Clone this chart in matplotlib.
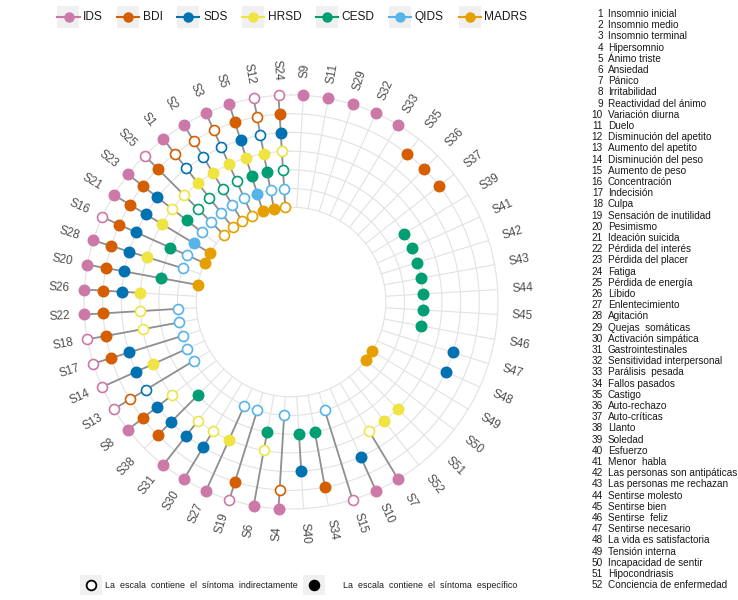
import numpy as np
import matplotlib.pyplot as plt
from matplotlib.lines import Line2D
from matplotlib.patches import Rectangle

plt.rcParams['font.family'] = ['Liberation Sans', 'DejaVu Sans']

# symptom order around the circle (clockwise, starting just right of top)
symptoms = ["S9", "S11", "S29", "S32", "S33", "S35", "S36", "S37", "S39", "S41",
            "S42", "S43", "S44", "S45", "S46", "S47", "S48", "S49", "S50", "S51",
            "S52", "S7", "S10", "S15", "S34", "S40", "S4", "S6", "S19", "S27",
            "S30", "S31", "S38", "S8", "S13", "S14", "S17", "S18", "S22", "S26",
            "S20", "S28", "S16", "S21", "S23", "S25", "S1", "S2", "S3", "S5",
            "S12", "S24"]

scales = ["IDS", "BDI", "SDS", "HRSD", "CESD", "QIDS", "MADRS"]
colors = ["#CC79A7", "#D55E00", "#0072B2", "#F0E442", "#009E73", "#56B4E9", "#E69F00"]

# 0 = not in scale, 1 = indirectly (hollow), 2 = specific (filled)
ids   = [2, 2, 2, 2, 2, 0, 0, 0, 0, 0,  0, 0, 0, 0, 0, 0, 0, 0, 0, 0,
         0, 2, 2, 1, 0, 0, 2, 2, 1, 2,  2, 2, 0, 2, 1, 1, 1, 1, 2, 2,
         2, 2, 1, 2, 2, 1, 2, 2, 2, 2,  1, 1]
bdi   = [0, 0, 0, 0, 0, 2, 2, 2, 0, 0,  0, 0, 0, 0, 0, 0, 0, 0, 0, 0,
         0, 0, 0, 0, 2, 0, 1, 0, 2, 0,  0, 0, 2, 2, 1, 0, 2, 2, 2, 2,
         2, 2, 2, 2, 2, 2, 1, 1, 1, 2,  1, 2]
sds   = [0, 0, 0, 0, 0, 0, 0, 0, 0, 0,  0, 0, 0, 0, 0, 2, 2, 0, 0, 0,
         0, 0, 2, 0, 0, 2, 0, 0, 0, 0,  2, 2, 2, 2, 1, 2, 2, 0, 0, 2,
         2, 2, 2, 2, 2, 0, 1, 1, 1, 2,  1, 2]
hrsd  = [0, 0, 0, 0, 0, 0, 0, 0, 0, 0,  0, 0, 0, 0, 0, 0, 0, 0, 0, 2,
         2, 1, 0, 0, 0, 0, 0, 1, 0, 2,  1, 1, 0, 1, 0, 2, 0, 1, 1, 2,
         0, 2, 0, 2, 1, 1, 2, 2, 2, 2,  2, 1]
cesd  = [0, 0, 0, 0, 0, 0, 0, 0, 2, 2,  2, 2, 2, 2, 2, 0, 0, 0, 0, 0,
         0, 0, 0, 0, 2, 2, 0, 2, 0, 0,  0, 0, 2, 0, 0, 0, 0, 0, 0, 0,
         2, 0, 2, 0, 2, 1, 1, 1, 1, 2,  2, 1]
qids  = [0, 0, 0, 0, 0, 0, 0, 0, 0, 0,  0, 0, 0, 0, 0, 0, 0, 0, 0, 0,
         0, 0, 0, 1, 0, 0, 1, 0, 1, 1,  0, 0, 0, 0, 1, 1, 1, 1, 1, 0,
         0, 1, 1, 2, 1, 1, 1, 1, 1, 2,  1, 1]
madrs = [0, 0, 0, 0, 0, 0, 0, 0, 0, 0,  0, 0, 0, 0, 0, 0, 0, 2, 2, 0,
         0, 0, 0, 0, 0, 0, 0, 0, 0, 0,  0, 0, 0, 0, 0, 0, 0, 0, 0, 0,
         2, 0, 2, 2, 0, 1, 1, 1, 1, 2,  2, 1]

names = ["Insomnio inicial", "Insomnio medio", "Insomnio terminal", "Hipersomnio",
         "Ánimo triste", "Ansiedad", "Pánico", "Irritabilidad", "Reactividad del ánimo",
         "Variación diurna", "Duelo", "Disminución del apetito", "Aumento del apetito",
         "Disminución del peso", "Aumento de peso", "Concentración", "Indecisión",
         "Culpa", "Sensación de inutilidad", "Pesimismo", "Ideación suicida",
         "Pérdida del interés", "Pérdida del placer", "Fatiga", "Pérdida de energía",
         "Líbido", "Enlentecimiento", "Agitación", "Quejas  somáticas",
         "Activación simpática", "Gastrointestinales", "Sensitividad interpersonal",
         "Parálisis  pesada", "Fallos pasados", "Castigo", "Auto-rechazo",
         "Auto-críticas", "Llanto", "Soledad", "Esfuerzo", "Menor  habla",
         "Las personas son antipáticas", "Las personas me rechazan", "Sentirse molesto",
         "Sentirse bien", "Sentirse  feliz", "Sentirse necesario",
         "La vida es satisfactoria", "Tensión interna", "Incapacidad de sentir",
         "Hipocondriasis", "Conciencia de enfermedad"]

values = [ids, bdi, sds, hrsd, cesd, qids, madrs]
rings = [7, 6, 5, 4, 3, 2, 1]  # IDS outermost, MADRS innermost

W, H = 738, 600
fig = plt.figure(figsize=(7.38, 6.0), dpi=100)


def fx(px):
    return px / W


def fy(py):
    return 1 - py / H


# polar panel with a hole in the middle
cx, cy = 291, 302
ring_px = 18.7
rorigin = 1 - 94.8 / ring_px
rmax = 7.6
R = (rmax - rorigin) * ring_px
ax = fig.add_axes([fx(cx - R), fy(cy + R), 2 * R / W, 2 * R / H], projection='polar')
ax.set_theta_zero_location('N')
ax.set_theta_direction(-1)
ax.set_rorigin(rorigin)
ax.set_ylim(0.4, rmax)
ax.axis('off')

n = len(symptoms)
theta = (np.arange(n) + 0.5) * 2 * np.pi / n

grid_col = '#e2e2e2'
tt = np.linspace(0, 2 * np.pi, 400)
for r in rings:
    ax.plot(tt, np.full_like(tt, r), color=grid_col, lw=0.8, zorder=1)
for t in theta:
    ax.plot([t, t], [1, 7], color=grid_col, lw=0.8, zorder=1)

# connecting segments
vals = np.array(values)
for j, t in enumerate(theta):
    present = [rings[k] for k in range(len(scales)) if vals[k, j] > 0]
    if len(present) > 1:
        ax.plot([t, t], [min(present), max(present)], color='#909090', lw=1.3,
                zorder=2, clip_on=False)

# points
for k, name in enumerate(scales):
    v = np.array(values[k])
    r = rings[k]
    full = v == 2
    hollow = v == 1
    ax.plot(theta[full], np.full(full.sum(), r), 'o', ms=7.6, mfc=colors[k],
            mec=colors[k], mew=1, ls='none', zorder=3, clip_on=False)
    ax.plot(theta[hollow], np.full(hollow.sum(), r), 'o', ms=7.2, mfc='white',
            mec=colors[k], mew=1.2, ls='none', zorder=3, clip_on=False)

# symptom labels
r_lab = rorigin + 232 / ring_px
for lab, t in zip(symptoms, theta):
    deg = np.degrees(t)
    rot = 90 - deg if deg <= 180 else 270 - deg
    ax.text(t, r_lab, lab, rotation=rot, rotation_mode='anchor', ha='center',
            va='center', fontsize=8.5, color='#4d4d4d')

# top legend
key_x = [68.5, 128, 188, 253, 327, 400, 470]
lab_x = [83, 143, 203, 268, 341, 414, 484]
ky = 17
for k, name in enumerate(scales):
    x = key_x[k]
    fig.add_artist(Rectangle((fx(x - 11), fy(ky + 11)), 22 / W, 22 / H,
                             transform=fig.transFigure, facecolor='#f0f0f0',
                             edgecolor='none'))
    fig.add_artist(Line2D([fx(x - 11), fx(x + 11)], [fy(ky), fy(ky)], color=colors[k],
                          lw=1.5, transform=fig.transFigure))
    fig.add_artist(Line2D([fx(x)], [fy(ky)], marker='o', ms=6.5, color=colors[k],
                          transform=fig.transFigure))
    fig.text(fx(lab_x[k]), fy(ky), name, ha='left', va='center', fontsize=8.6,
             color='#1a1a1a')

# bottom legend
by = 585
for x, fill, tx, txt in [(91, 'white', 105, "La  escala  contiene  el  síntoma  indirectamente"),
                         (314, 'black', 343, "La  escala  contiene  el  síntoma  específico")]:
    fig.add_artist(Rectangle((fx(x - 11), fy(by + 10)), 22 / W, 20 / H,
                             transform=fig.transFigure, facecolor='#f0f0f0',
                             edgecolor='none'))
    fig.add_artist(Line2D([fx(x)], [fy(by)], marker='o', ms=7, mfc=fill, mec='black',
                          mew=1.3, transform=fig.transFigure))
    fig.text(fx(tx), fy(by), txt, ha='left', va='center', fontsize=6.4, color='#1a1a1a')

# numbered list of symptoms
for i, nm in enumerate(names):
    yy = 14 + i * 11.2
    fig.text(fx(603), fy(yy), str(i + 1), ha='right', va='center', fontsize=7.2,
             color='#1a1a1a')
    fig.text(fx(608), fy(yy), nm, ha='left', va='center', fontsize=7.2, color='#1a1a1a')

fig.savefig("out.png", dpi=100, facecolor='white')
